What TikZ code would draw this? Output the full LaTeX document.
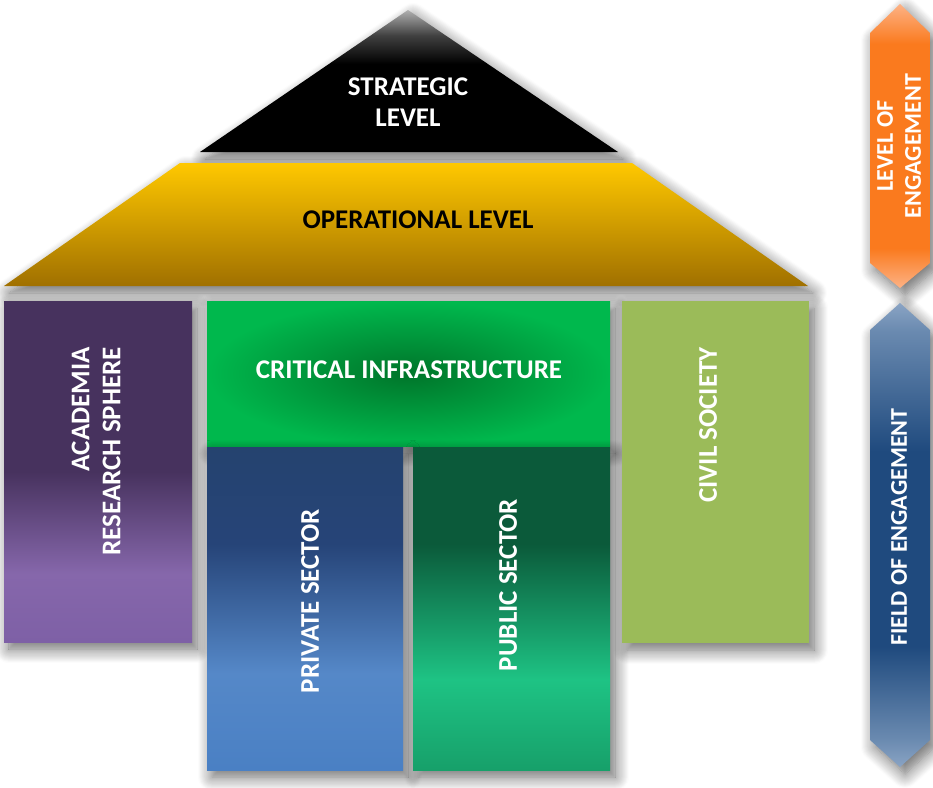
\documentclass[tikz,border=0pt]{standalone}
\usepackage{fontspec}
\setmainfont{Carlito}
\usetikzlibrary{positioning,shadows.blur}

\definecolor{acadDark}{HTML}{47325E}
\definecolor{acadLight}{HTML}{8667AB}
\definecolor{acadLow}{HTML}{7E60A6}
\definecolor{privDark}{HTML}{264478}
\definecolor{privTop}{HTML}{25436F}
\definecolor{privLight}{HTML}{5588C8}
\definecolor{privLow}{HTML}{4A80C4}
\definecolor{pubDark}{HTML}{0B5A3A}
\definecolor{pubLight}{HTML}{1EC384}
\definecolor{pubLow}{HTML}{17A06A}
\definecolor{critIn}{HTML}{00752A}
\definecolor{critOut}{HTML}{00B84D}
\definecolor{civil}{HTML}{9BBB59}
\definecolor{operTop}{HTML}{FFC800}
\definecolor{operMid}{HTML}{E2A600}
\definecolor{operLow}{HTML}{A07000}
\definecolor{stratTop}{HTML}{B0B0B0}
\definecolor{stratMid}{HTML}{404040}
\definecolor{lvlPale}{HTML}{FDB285}
\definecolor{lvlMain}{HTML}{FA7A1E}
\definecolor{fldPale}{HTML}{8AA4C4}
\definecolor{fldLight}{HTML}{6A8AB0}
\definecolor{fldMain}{HTML}{1F4A7E}

% 25bp = bottom of the path, 75bp = top
\pgfdeclareverticalshading{academiashade}{100bp}{color(0bp)=(acadLow); color(25bp)=(acadLow);
  color(35bp)=(acadLight); color(50bp)=(acadDark); color(75bp)=(acadDark); color(100bp)=(acadDark)}
\pgfdeclareverticalshading{privateshade}{100bp}{color(0bp)=(privLow); color(25bp)=(privLow);
  color(40bp)=(privLight); color(60bp)=(privDark); color(75bp)=(privTop); color(100bp)=(privTop)}
\pgfdeclareverticalshading{publicshade}{100bp}{color(0bp)=(pubLow); color(25bp)=(pubLow);
  color(39bp)=(pubLight); color(60bp)=(pubDark); color(75bp)=(pubDark); color(100bp)=(pubDark)}
\pgfdeclareverticalshading{strategicshade}{100bp}{color(0bp)=(black); color(25bp)=(black);
  color(56bp)=(black); color(66bp)=(stratMid); color(75bp)=(stratTop); color(100bp)=(stratTop)}
\pgfdeclareverticalshading{levelshade}{100bp}{color(0bp)=(lvlPale); color(25bp)=(lvlPale);
  color(32bp)=(lvlMain); color(68bp)=(lvlMain); color(75bp)=(lvlPale); color(100bp)=(lvlPale)}
\pgfdeclareverticalshading{fieldshade}{100bp}{color(0bp)=(fldPale); color(25bp)=(fldPale);
  color(28bp)=(fldLight); color(38bp)=(fldMain); color(59bp)=(fldMain); color(72bp)=(fldLight);
  color(75bp)=(fldPale); color(100bp)=(fldPale)}

\tikzset{
    shade/.style={
        blur shadow={shadow xshift=5pt, shadow yshift=-7pt,
            shadow blur radius=14pt, shadow blur steps=14, shadow opacity=60}
    },
    box/.style={
        rectangle,
        inner sep=0pt,
        shade
    },
    label/.style={
        text=white,
        font={\fontsize{27pt}{31pt}\selectfont\bfseries},
        inner sep=0pt
    },
    sidelabel/.style={
        label,
        font={\fontsize{24pt}{28pt}\selectfont\bfseries}
    },
}

\begin{document}
\begin{tikzpicture}[x=1pt, y=-1pt]
\useasboundingbox (0,0) rectangle (933,787);

% roof
\path [shade, shading=strategicshade] (408,10) -- (618,152) -- (200,152) -- cycle;
\path [shade, top color=operTop, middle color=operMid, bottom color=operLow]
  (180,163) -- (632,163) -- (808,286) -- (4,286) -- cycle;

\node [label, align=center] (strategic) at (408,102) {STRATEGIC\\LEVEL};
\node [label, text=black] (operational) at (418,220) {OPERATIONAL LEVEL};

% pillars
\node [box, shading=academiashade, minimum width=188pt, minimum height=341pt]
  (academia) at (98,471.5) {};
\node [box, inner color=critIn, outer color=critOut, minimum width=403pt, minimum height=145pt]
  (critical) at (408.5,373.5) {};
\node [box, shading=privateshade, minimum width=196pt, minimum height=323pt]
  (private) at (305,608.5) {};
\node [box, shading=publicshade, minimum width=197pt, minimum height=323pt]
  (public) at (511.5,608.5) {};
\node [box, fill=civil, minimum width=187pt, minimum height=342pt]
  (civil) at (715.5,472) {};

\node [label, rotate=90, align=right, anchor=east] (academia-text) at (96,347)
  {ACADEMIA\\RESEARCH SPHERE};
\node [label] (critical-text) at (409,370) {CRITICAL INFRASTRUCTURE};
\node [label, rotate=90] (private-text) at (310,601) {PRIVATE SECTOR};
\node [label, rotate=90] (public-text) at (508,585) {PUBLIC SECTOR};
\node [label, rotate=90] (civil-text) at (708,425) {CIVIL SOCIETY};

% side arrows
\path [shade, shading=levelshade]
  (900,4) -- (930,33) -- (930,263) -- (900,288) -- (870,263) -- (870,33) -- cycle;
\path [shade, shading=fieldshade]
  (900,303) -- (930,330) -- (930,740) -- (900,767) -- (870,740) -- (870,330) -- cycle;

\node [sidelabel, rotate=90, align=center] (level-text) at (899,146) {LEVEL OF\\ENGAGEMENT};
\node [sidelabel, rotate=90] (field-text) at (899,527) {FIELD OF ENGAGEMENT};

\end{tikzpicture}
\end{document}
